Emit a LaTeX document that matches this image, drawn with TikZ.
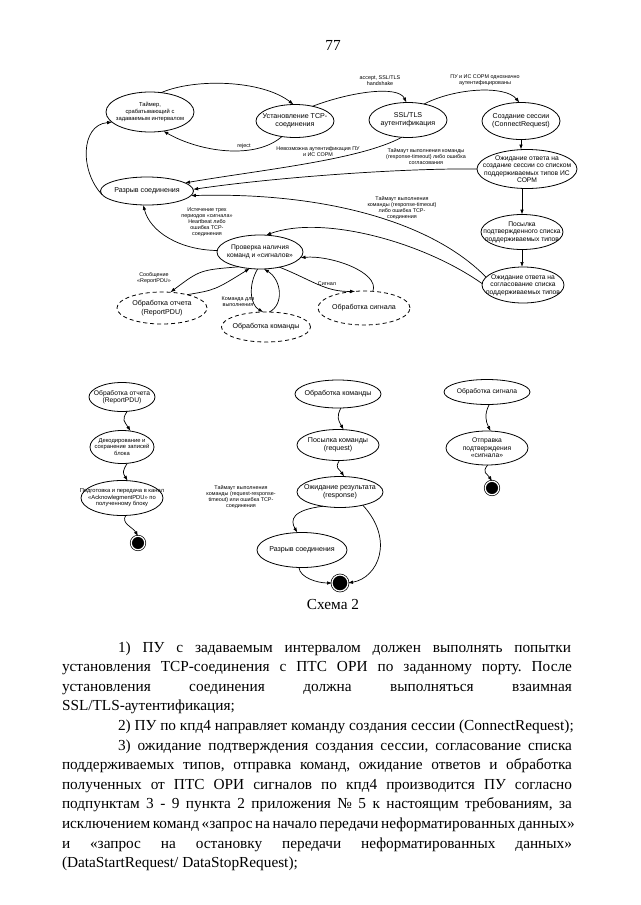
\documentclass[tikz,border=0pt]{standalone}
\usepackage{fontspec}
\setmainfont{Liberation Serif}
\newfontfamily\arialf{Liberation Sans}
\usetikzlibrary{shapes.geometric,arrows.meta}
\frenchspacing
\newcommand\StNode[8]{%
  \node[stshape,#7,minimum width=#4pt,minimum height=#5pt] (#1) at (#2,#3) {};
  \node[#6,align=center] (#1-t) at (#2,#3) {#8};}
\begin{document}
\begin{tikzpicture}[x=1pt,y=-1pt,
  every node/.style={inner sep=0pt, outer sep=0pt},
  stshape/.style={ellipse, draw, line width=0.8pt},
  dsh/.style={dash pattern=on 4pt off 3pt},
  txtb/.style={font=\arialf\fontsize{7.1}{8.3}\selectfont},
  txtm/.style={font=\arialf\fontsize{6.7}{7.5}\selectfont},
  txts/.style={font=\arialf\fontsize{5.8}{6.6}\selectfont},
  lbl/.style={align=center, font=\arialf\fontsize{5.4}{6}\selectfont},
  arr/.style={draw, line width=0.7pt, -{Latex[length=5pt,width=3.6pt]}},
  endst/.style={circle, fill=black, draw=black, line width=0.7pt, minimum size=13.5pt, double=white, double distance=1.2pt},
  body/.style={anchor=base west, font=\fontsize{15.3}{17}\selectfont},
]
\fill[white] (0,0) rectangle (640,905);
\useasboundingbox (0,0) rectangle (640,905);

\node[font=\fontsize{15.3}{17}\selectfont] (pg) at (333,45) {77};

% ---------- upper state diagram
\StNode{timer}{150}{112}{88}{40}{txts}{}{Таймер,\\срабатывающий с\\задаваемым интервалом}
\StNode{tcp}{295}{121}{78}{33}{txtb}{}{Установление TCP-\\соединения}
\StNode{ssl}{408}{120}{78}{35}{txtb}{}{SSL/TLS\\аутентификация}
\StNode{cs}{521}{121}{78}{37}{txtb}{}{Создание сессии\\(ConnectRequest)}
\StNode{wa}{527}{169}{100}{39}{txtm}{}{Ожидание ответа на\\создание сессии со списком\\поддерживаемых типов ИС\\СОРМ}
\StNode{ps}{522}{232}{82}{35}{txtm}{}{Посылка\\подтвержденного списка\\поддерживаемых типов}
\StNode{wb}{523}{285}{82}{36}{txtm}{}{Ожидание ответа на\\согласование списка\\поддерживаемых типов}
\StNode{rz}{147}{191}{93}{28}{txtb}{}{Разрыв соединения}
\StNode{chk}{260}{252}{86}{34}{txtm}{}{Проверка наличия\\команд и «сигналов»}
\StNode{ro}{162}{308}{90}{32}{txtb}{dsh}{Обработка отчета\\(ReportPDU)}
\StNode{rk}{266}{327}{89}{30}{txtb}{dsh}{Обработка команды}
\StNode{rs}{364}{308}{92}{34}{txtb}{dsh}{Обработка сигнала}

\draw[arr] (timer.60) .. controls (195,78) and (262,80) .. (tcp.95);
\draw[arr] (tcp.230) .. controls (255,160) and (200,152) .. (timer.-55);
\node[lbl] (l-rej) at (244,146) {reject};
\draw[arr] (tcp.40) .. controls (350,92) and (398,85) .. (ssl.95);
\node[lbl] (l-acc) at (380,81) {accept, SSL/TLS\\handshake};
\draw[arr] (ssl.45) .. controls (455,88) and (505,85) .. (cs.95);
\node[lbl] (l-auth) at (485,80) {ПУ и ИС СОРМ однозначно\\аутентифицированы};
\draw[arr] (ssl.250) .. controls (360,160) and (260,170) .. (rz.12);
\node[lbl] (l-noauth) at (318,152) {Невозможна аутентификация ПУ\\и ИС СОРМ};
\draw[arr] (cs.south) -- (cs.south |- wa.north);
\draw[arr] (wa.west) .. controls (400,168) and (270,178) .. (rz.2);
\node[lbl] (l-to1) at (426,157) {Таймаут выполнения команды\\(response-timeout) либо ошибка\\согласования};
\draw[arr] (ps.north |- wa.south) -- (ps.north);
\draw[arr] (ps.south) -- (ps.south |- wb.north);
\draw[arr] (wb.168) .. controls (430,220) and (320,192) .. (rz.-6);
\draw[arr] (wb.178) .. controls (420,240) and (320,215) .. (chk.70);
\node[lbl] (l-to2) at (402,208) {Таймаут выполнения\\команды (response-timeout)\\либо ошибка TCP-\\соединения};
\draw[arr] (rz.185) .. controls (80,172) and (80,125) .. (timer.195);
\draw[arr] (chk.178) .. controls (180,250) and (150,232) .. (rz.-105);
\node[lbl] (l-hb) at (207,222) {Истечение трех\\периодов «сигнала»\\Heartbeat либо\\ошибка TCP-\\соединения};
\draw[arr] (chk.215) .. controls (200,270) .. (ro.62);
\node[lbl] (l-rep) at (154,278) {Сообщение\\«ReportPDU»};
\draw[arr] (ro.28) .. controls (215,290) .. (chk.238);
\draw[arr] (chk.262) .. controls (248,285) and (250,305) .. (rk.100);
\draw[arr] (rk.78) .. controls (284,305) and (282,280) .. (chk.283);
\node[lbl] (l-cmd) at (238,302) {Команда для\\выполнения};
\draw[arr] (chk.-38) .. controls (312,280) and (325,292) .. (rs.118);
\node[lbl] (l-sig) at (327,284) {Сигнал};
\draw[arr] (rs.62) .. controls (380,272) and (330,255) .. (chk.-8);

% ---------- lower diagrams
\StNode{bo}{122}{397}{66}{29}{txtm}{}{Обработка отчета\\(ReportPDU)}
\StNode{bd}{122}{447}{64}{33}{txts}{}{Декодирование и\\сохранение записей\\блока}
\StNode{bp}{122}{498}{82}{35}{txts}{}{Подготовка и передача в канал\\«AcknowlegmentPDU» по\\полученному блоку}
\node[endst] (e1) at (138,543) {};
\StNode{bk}{338}{394}{86}{28}{txtb}{}{Обработка команды}
\StNode{bq}{338}{445}{82}{31}{txtb}{}{Посылка команды\\(request)}
\StNode{bw}{340}{492}{86}{31}{txtb}{}{Ожидание результата\\(response)}
\StNode{bx}{302}{550}{90}{35}{txtb}{}{Разрыв соединения}
\node[endst, minimum size=16pt] (e2) at (340,583) {};
\StNode{bs}{487}{392}{86}{25}{txtm}{}{Обработка сигнала}
\StNode{ba}{487}{448}{82}{34}{txtm}{}{Отправка\\подтверждения\\«сигнала»}
\node[endst] (e3) at (492,488) {};

\draw[arr] (bo.-70) .. controls +(-6,9) and +(-6,-10) .. (bd.62);
\draw[arr] (bd.-72) .. controls +(-5,8) and +(-5,-8) .. (bp.72);
\draw[arr] (bp.-78) .. controls +(-5,8) and +(-5,-9) .. (e1.north);
\draw[arr] (bk.-78) .. controls +(-5,9) and +(-5,-9) .. (bq.70);
\draw[arr] (bq.-85) .. controls +(-5,8) and +(-5,-8) .. (bw.75);
\draw[arr] (bw.-140) .. controls (292,510) and (290,520) .. (bx.105);
\node[lbl] (l-to3) at (241,497) {Таймаут выполнения\\команды (request-response-\\timeout) или ошибка TCP-\\соединения};
\draw[arr] (bw.-30) .. controls (395,540) and (378,578) .. (e2.east);
\draw[arr] (bx.-100) .. controls (300,578) and (318,583) .. (e2.west);
\draw[arr] (bs.-80) .. controls +(-5,10) and +(-5,-10) .. (ba.78);
\draw[arr] (ba.-88) .. controls +(-6,8) and +(-5,-8) .. (e3.north);

\node[font=\fontsize{15.3}{17}\selectfont] (cap) at (333,605) {Схема 2};

% ---------- body text
\node[body] (t1) at (118,652) {\makebox[453pt][s]{1) ПУ с задаваемым интервалом должен выполнять попытки}};
\node[body] (t2) at (62,671.6) {\makebox[510pt][s]{установления TCP-соединения с ПТС ОРИ по заданному порту. После}};
\node[body] (t3) at (62,691.2) {\makebox[510pt][s]{установления соединения должна выполняться взаимная}};
\node[body] (t4) at (62,710.8) {SSL/TLS-аутентификация;};
\node[body] (t5) at (118,730.4) {2) ПУ по кпд4 направляет команду создания сессии (ConnectRequest);};
\node[body] (t6) at (118,750) {\makebox[454pt][s]{3) ожидание подтверждения создания сессии, согласование списка}};
\node[body] (t7) at (62,769.6) {\makebox[510pt][s]{поддерживаемых типов, отправка команд, ожидание ответов и обработка}};
\node[body] (t8) at (62,789.2) {\makebox[510pt][s]{полученных от ПТС ОРИ сигналов по кпд4 производится ПУ согласно}};
\node[body] (t9) at (62,808.8) {\makebox[510pt][s]{подпунктам 3 - 9 пункта 2 приложения № 5 к настоящим требованиям, за}};
\node[body] (t10) at (62,828.4) {\makebox[510pt][s]{исключением команд «запрос на начало передачи неформатированных данных»}};
\node[body] (t11) at (62,848) {\makebox[510pt][s]{и «запрос на остановку передачи неформатированных данных»}};
\node[body] (t12) at (62,867.6) {(DataStartRequest/ DataStopRequest);};
\end{tikzpicture}
\end{document}
